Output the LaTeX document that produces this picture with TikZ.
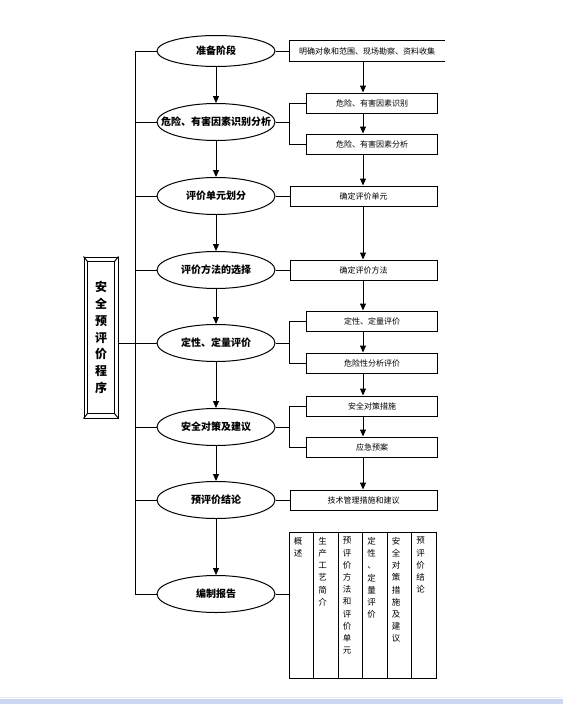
\documentclass[tikz,border=0pt]{standalone}
\usepackage{fontspec}
\setmainfont{Noto Sans CJK SC}
\usepackage{tikz}
\usetikzlibrary{shapes.geometric, arrows, arrows.meta, calc, positioning}
\definecolor{bandblue}{RGB}{200,215,245}
\tikzstyle{stage} = [ellipse, line width=1pt, draw=black, minimum width=118pt, minimum height=37pt, inner sep=1pt, font=\bfseries\fontsize{10}{12}\selectfont]
\tikzstyle{task} = [rectangle, line width=1pt, draw=black, minimum width=147pt, minimum height=20pt, inner sep=1pt, font=\fontsize{8}{10}\selectfont]
\tikzstyle{subtask} = [task, minimum width=131pt]
\tikzstyle{line} = [line width=1pt]
\tikzstyle{arrow} = [line width=1pt,->,>={Triangle[width=6pt,length=7pt]}]

\begin{document}
\begin{tikzpicture}[x=1pt, y=-1pt, node distance = 14pt, auto]
		\useasboundingbox (0,0) rectangle (563,704);
		\fill[bandblue] (0,699) rectangle (563,704);
		\draw[black!8] (0,697.5) -- (563,697.5);
		% stages
		\node (Prepare) [stage, minimum height=31pt] at (216,51) {准备阶段};
		\node (Hazard) [stage, inner xsep=-16pt, below = 71pt of Prepare.center, anchor=center] {危险、有害因素识别分析};
		\node (UnitDiv) [stage, below = 74pt of Hazard.center, anchor=center] {评价单元划分};
		\node (Method) [stage, below = 74pt of UnitDiv.center, anchor=center] {评价方法的选择};
		\node (Assess) [stage, below = 73pt of Method.center, anchor=center] {定性、定量评价};
		\node (Measure) [stage, below = 84pt of Assess.center, anchor=center] {安全对策及建议};
		\node (Conclude) [stage, below = 73pt of Measure.center, anchor=center] {预评价结论};
		\node (Report) [stage, below = 94pt of Conclude.center, anchor=center] {编制报告};
		\node (Program) [rectangle, line width=1pt, draw=black, minimum width=34pt, minimum height=161pt, inner sep=0pt, align=center, font=\bfseries\fontsize{12}{16.7}\selectfont] at (101,337.5) {安\\全\\预\\评\\价\\程\\序};
		% tasks
		\node (Collect) [task, draw=none, minimum width=154pt, right = of Prepare] {明确对象和范围、现场勘察、资料收集};
		\node (Identify) [subtask, anchor=west] at (306,103) {危险、有害因素识别};
		\node (Analyse) [subtask, anchor=west] at (306,144) {危险、有害因素分析};
		\node (UnitBox) [task, right = of UnitDiv] {确定评价单元};
		\node (MethodBox) [task, right = of Method] {确定评价方法};
		\node (Qualitative) [subtask, anchor=west] at (306,321) {定性、定量评价};
		\node (RiskBox) [subtask, anchor=west] at (306,363) {危险性分析评价};
		\node (Countermeasure) [subtask, anchor=west] at (306,406) {安全对策措施};
		\node (Emergency) [subtask, anchor=west] at (306,447) {应急预案};
		\node (AdviceBox) [task, right = of Conclude] {技术管理措施和建议};
		\node (Contents) [rectangle, line width=1pt, draw=black, minimum width=147pt, minimum height=146pt, anchor=north west] at (289,532) {};
		\foreach \txt [count=\i] in {{概\\述}, {生\\产\\工\\艺\\简\\介}, {预\\评\\价\\方\\法\\和\\评\\价\\单\\元}, {定\\性\\、\\定\\量\\评\\价}, {安\\全\\对\\策\\措\\施\\及\\建\\议}, {预\\评\\价\\结\\论}}
			\node (Chapter\i) [anchor=north, inner sep=0pt, align=center, font=\fontsize{8.5}{12.2}\selectfont] at ($(Contents.north west)+(\i*24.5-15.5,5)$) {\txt};
		\foreach \i in {1,...,5}
			\draw [line] ($(Contents.north west)+(\i*24.5,0)$) -- ($(Contents.south west)+(\i*24.5,0)$);
		% frame of the program box
		\draw [line] ($(Program.north west)+(4,5)$) rectangle ($(Program.south east)+(-4,-5)$);
		\foreach \c/\dx/\dy in {north west/4/5, north east/-4/5, south west/4/-5, south east/-4/-5}
			\draw [line] (Program.\c) -- ($(Program.\c)+(\dx,\dy)$);
		\draw [line] (Collect.north east) -- (Collect.north west) -- (Collect.south west) -- (Collect.south east);
		% connectors
		\coordinate (Trunk) at (135,0);
		\coordinate (RightAxis) at (363,0);
		\draw [line] (Prepare.west -| Trunk) -- (Report.west -| Trunk);
		\foreach \s in {Prepare, Hazard, UnitDiv, Method, Assess, Measure, Conclude, Report}
			\draw [line] (\s.west -| Trunk) -- (\s.west);
		\draw [line] (Program.east |- Assess.west) -- (Assess.west -| Trunk);
		\foreach \a/\b in {Prepare/Collect, UnitDiv/UnitBox, Method/MethodBox, Conclude/AdviceBox}
			\draw [line] (\a.east) -- (\b.west);
		\draw [line] (Report.east) -- (Report.east -| Contents.west);
		\foreach \s/\u/\l in {Hazard/Identify/Analyse, Assess/Qualitative/RiskBox, Measure/Countermeasure/Emergency}
		{
			\draw [line] (\s.east) -- (\s.east -| Collect.west) coordinate (\s-fork);
			\draw [line] (\u.west) -| (\s-fork) |- (\l.west);
		}
		\foreach \a/\b in {Prepare/Hazard, Hazard/UnitDiv, UnitDiv/Method, Method/Assess, Assess/Measure, Measure/Conclude, Conclude/Report}
			\draw [arrow] (\a) -- (\b);
		\foreach \a/\b in {Collect/Identify, Identify/Analyse, Analyse/UnitBox, UnitBox/MethodBox, MethodBox/Qualitative, Qualitative/RiskBox, RiskBox/Countermeasure, Countermeasure/Emergency, Emergency/AdviceBox}
			\draw [arrow] (\a.south -| RightAxis) -- (\b.north -| RightAxis);
\end{tikzpicture}
\end{document}
